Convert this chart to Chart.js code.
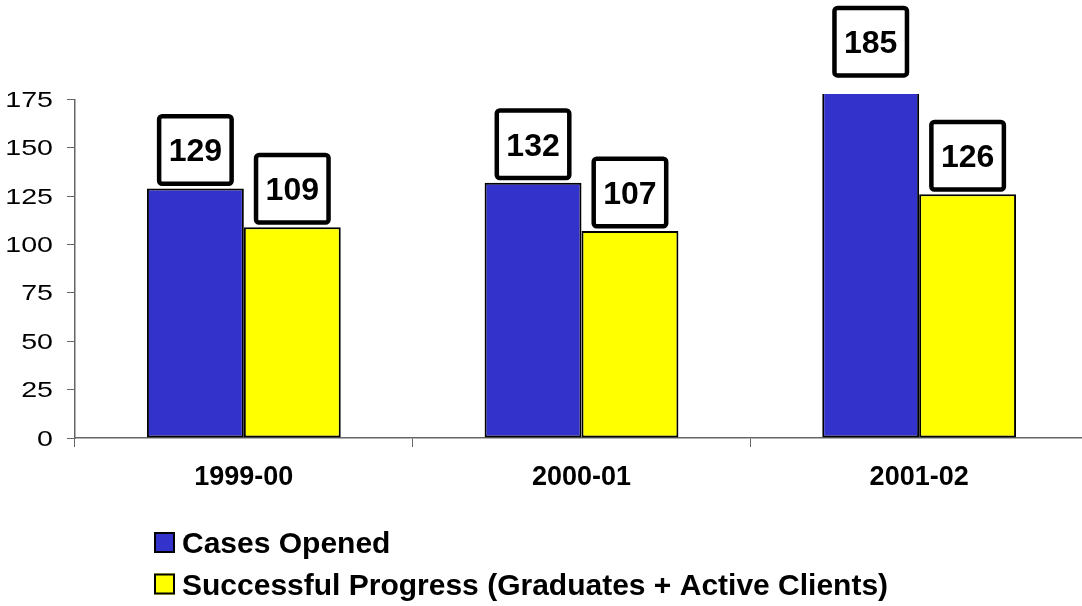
<!DOCTYPE html>
<html>
<head>
<meta charset="utf-8">
<script src="https://cdn.jsdelivr.net/npm/chart.js@4.4.1/dist/chart.umd.min.js"></script>
<style>
  html, body { margin: 0; padding: 0; background: #fff; overflow: hidden; }
  #wrap { width: 1082px; height: 606px; overflow: hidden; position: relative; }
  canvas { position: absolute; left: 0; top: 0; }
</style>
</head>
<body>
<div id="wrap"><canvas id="chart" width="1088" height="606"></canvas></div>
<script>
// chart values
const categories = ['1999-00', '2000-01', '2001-02'];
const seriesNames = ['Cases Opened', 'Successful Progress (Graduates + Active Clients)'];
const casesOpened = [129, 132, 185];
const successfulProgress = [109, 107, 126];
const yTickValues = [0, 25, 50, 75, 100, 125, 150, 175];

const FONT = '"Liberation Sans", Arial, sans-serif';
Chart.defaults.font.family = FONT;

// white boxes with the value above each bar
const valueBoxes = {
  id: 'valueBoxes',
  afterDatasetsDraw(chart) {
    const ctx = chart.ctx;
    chart.data.datasets.forEach((ds, di) => {
      chart.getDatasetMeta(di).data.forEach((bar, i) => {
        const w = 77, h = 72;
        const x0 = bar.x - w / 2;
        const y0 = bar.y - 2.5 - h;
        ctx.save();
        ctx.lineWidth = 4.5;
        ctx.strokeStyle = '#000';
        ctx.fillStyle = '#fff';
        ctx.beginPath();
        ctx.roundRect(x0 + 2.25, y0 + 2.25, w - 4.5, h - 4.5, 3);
        ctx.fill();
        ctx.stroke();
        ctx.fillStyle = '#000';
        ctx.font = 'bold 32px ' + FONT;
        ctx.textAlign = 'center';
        ctx.textBaseline = 'alphabetic';
        ctx.fillText(String(ds.data[i]), bar.x, y0 + h / 2 + 11.5);
        ctx.restore();
      });
    });
  }
};

// y tick labels are drawn a bit wide, like the original
const wideYLabels = {
  id: 'wideYLabels',
  afterDraw(chart) {
    const ctx = chart.ctx;
    const yScale = chart.scales.y;
    ctx.save();
    ctx.fillStyle = '#000';
    ctx.font = '22px ' + FONT;
    ctx.textAlign = 'right';
    ctx.textBaseline = 'alphabetic';
    yScale.ticks.forEach((t) => {
      const py = yScale.getPixelForValue(t.value);
      ctx.save();
      ctx.translate(53, py + 7.5);
      ctx.scale(1.3, 1);
      ctx.fillText(String(t.value), 0, 0);
      ctx.restore();
    });
    ctx.restore();
  }
};

// two-row legend, left aligned under the chart
const stackedLegend = {
  id: 'stackedLegend',
  afterDraw(chart) {
    const ctx = chart.ctx;
    const rowCenters = [542.5, 584];
    ctx.save();
    chart.data.datasets.forEach((ds, i) => {
      const cy = rowCenters[i];
      ctx.fillStyle = ds.backgroundColor;
      ctx.fillRect(154, cy - 10.5, 21, 21);
      ctx.lineWidth = 2;
      ctx.strokeStyle = '#000';
      ctx.strokeRect(155, cy - 9.5, 19, 19);
      ctx.fillStyle = '#000';
      ctx.font = 'bold 30px ' + FONT;
      ctx.textAlign = 'left';
      ctx.textBaseline = 'alphabetic';
      ctx.fillText(ds.label, 182, cy + 10.7);
    });
    ctx.restore();
  }
};

const barClip = { left: 10, top: 5.5, right: 10, bottom: 10 };

new Chart(document.getElementById('chart'), {
  type: 'bar',
  data: {
    labels: categories,
    datasets: [
      { label: seriesNames[0], data: casesOpened, backgroundColor: '#3333CC', clip: barClip },
      { label: seriesNames[1], data: successfulProgress, backgroundColor: '#FFFF00', clip: barClip }
    ]
  },
  options: {
    responsive: false,
    devicePixelRatio: 1,
    animation: false,
    layout: { padding: { top: 99.5, bottom: 108, left: 0, right: 0 } },
    datasets: {
      bar: {
        categoryPercentage: 0.574,
        barPercentage: 1.0,
        borderColor: '#000',
        borderWidth: 2,
        borderSkipped: false
      }
    },
    plugins: {
      legend: { display: false },
      tooltip: { enabled: false }
    },
    scales: {
      x: {
        afterFit: (s) => { s.height = 60; },
        grid: { drawOnChartArea: false, drawTicks: true, tickLength: 9, color: '#666', offset: true },
        border: { color: '#666', width: 1.5 },
        ticks: { color: '#000', font: { size: 27, weight: 'bold' }, padding: 14 }
      },
      y: {
        min: 0,
        max: 175,
        afterFit: (s) => { s.width = 75; },
        afterBuildTicks: (s) => { s.ticks = yTickValues.map((v) => ({ value: v })); },
        grid: { drawOnChartArea: false, drawTicks: true, tickLength: 8, color: '#666' },
        border: { color: '#666', width: 1.5 },
        ticks: { display: false }
      }
    }
  },
  plugins: [valueBoxes, wideYLabels, stackedLegend]
});
</script>
</body>
</html>
